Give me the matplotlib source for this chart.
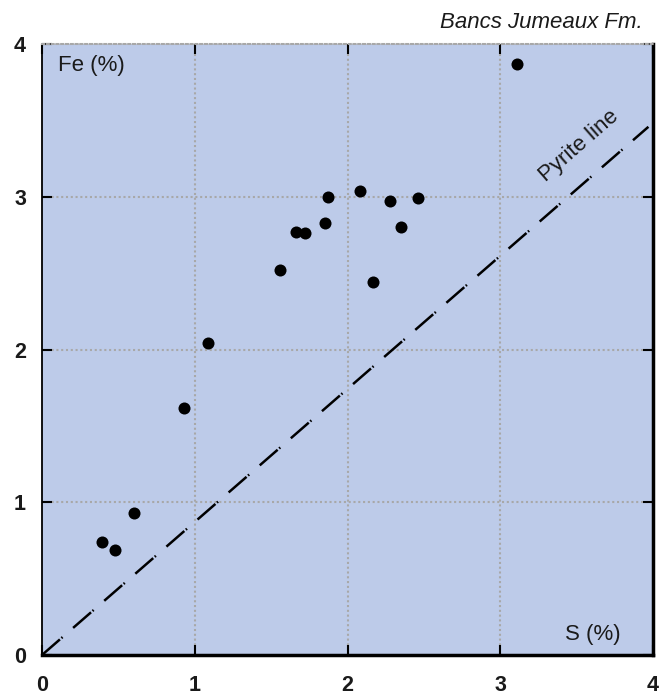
import matplotlib
matplotlib.use("Agg")
import matplotlib.pyplot as plt
import numpy as np

plt.rcParams['font.family'] = ['Liberation Sans', 'DejaVu Sans']

# Data (S %, Fe %)
s_pct = [0.39, 0.48, 0.60, 0.93, 1.09, 1.56, 1.66, 1.72, 1.85, 1.87,
         2.08, 2.17, 2.28, 2.35, 2.46, 3.11]
fe_pct = [0.74, 0.69, 0.93, 1.62, 2.04, 2.52, 2.77, 2.76, 2.83, 3.00,
          3.04, 2.44, 2.97, 2.80, 2.99, 3.87]
pyrite_x = [0.0, 3.97]
pyrite_ratio = 0.871  # Fe/S mass ratio of FeS2
ticks = [0, 1, 2, 3, 4]
tick_labels = ["0", "1", "2", "3", "4"]

fig = plt.figure(figsize=(6.63, 6.96), dpi=100)
ax = fig.add_axes([42/663, 41/696, 611/663, 611/696])
ax.set_facecolor('#bdcbe9')
ax.set_xlim(0, 4)
ax.set_ylim(0, 4)

gcol = '#a8a8a8'
gls = (0, (1.0, 1.3))
for v in [1, 2, 3]:
    ax.axvline(v, color=gcol, lw=1.5, ls=gls, zorder=1)
    ax.axhline(v, color=gcol, lw=1.5, ls=gls, zorder=1)

# pyrite line
px = np.array(pyrite_x)
ax.plot(px, pyrite_ratio * px, color='black', lw=1.8,
        ls=(0, (9.5, 0.8, 0.6, 5.6)), zorder=2, dash_capstyle='butt')

ax.scatter(s_pct, fe_pct, s=75, color='black', zorder=3, linewidths=0)

ax.set_xticks(ticks)
ax.set_yticks(ticks)
ax.set_xticklabels(tick_labels, fontsize=15.5, fontweight='bold', color='#1a1a1a')
ax.set_yticklabels(tick_labels, fontsize=15.5, fontweight='bold', color='#1a1a1a')
ax.tick_params(direction='in', length=7, width=1.5, top=True, right=True,
               color='black')
ax.tick_params(axis='x', pad=14.5)
ax.tick_params(axis='y', pad=11.5)

ax.spines['left'].set_linewidth(1.3)
ax.spines['bottom'].set_linewidth(2.5)
ax.spines['right'].set_linewidth(2.5)
ax.spines['top'].set_linewidth(1.5)
ax.spines['top'].set_color(gcol)
ax.spines['top'].set_linestyle(gls)

tcol = '#1a1a1a'
ax.text(0.105, 3.82, "Fe (%)", fontsize=16, color=tcol, ha='left', va='baseline')
ax.text(3.785, 0.098, "S (%)", fontsize=16, color=tcol, ha='right', va='baseline')
ax.text(3.516, 3.33, "Pyrite line", fontsize=16, color=tcol, ha='center',
        va='center', rotation=np.degrees(np.arctan(pyrite_ratio)),
        rotation_mode='anchor')
fig.text(643/663, 1 - 28.3/696, "Bancs Jumeaux Fm.", fontsize=16, style='italic',
         color=tcol, ha='right', va='baseline')

fig.savefig("out.png", dpi=100)
